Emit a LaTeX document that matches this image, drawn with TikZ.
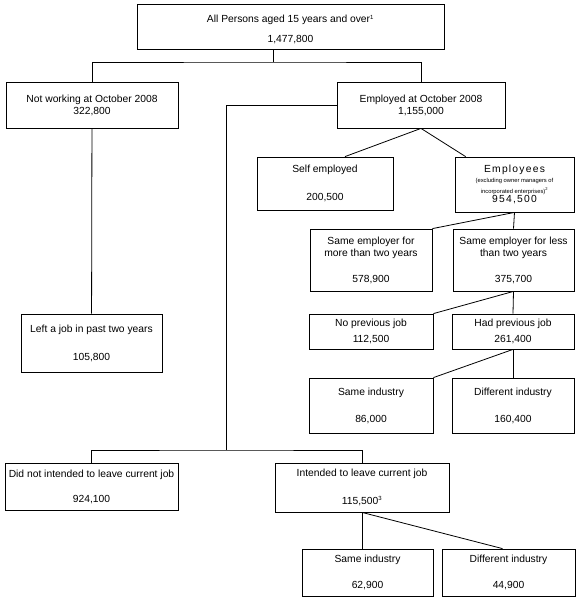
\documentclass[tikz,border=0pt]{standalone}
\usepackage{fontspec}
\setmainfont{Liberation Sans}
\usetikzlibrary{positioning}
\tikzset{
  boite/.style={
    rectangle,
    draw=black,line width=0.8pt,
    inner sep=0pt,
    align=center,
    font=\fontsize{10.3}{12}\selectfont},
  line/.style = {draw,line width=0.8pt},
}
\newcommand{\petit}{\fontsize{5.8}{8.5}\selectfont}
\newcommand{\normale}{\fontsize{10.3}{12}\selectfont}
\newcommand{\espace}[1]{{\addfontfeatures{LetterSpace=12}#1}}

\begin{document}
\begin{tikzpicture}[x=1pt,y=-1pt]
  \useasboundingbox (0,0) rectangle (582,603);
  \node[boite,minimum width=307,minimum height=45](all_persons) at (290.5,26.5)
    {\rule{0pt}{14pt}All Persons aged 15 years and over\textsuperscript{\fontsize{6}{6}\selectfont 1}\\[8pt]1,477,800};
  \node[boite,minimum width=172,minimum height=46](not_working) at (92,105)
    {Not working at October 2008\\[0pt]322,800};
  \node[boite,minimum width=168,minimum height=46](employed) at (421,105)
    {Employed at October 2008\\[0pt]1,155,000};
  \node[boite,minimum width=141,minimum height=58](left_job) at (91.5,343)
    {Left a job in past two years\\[16pt]105,800};
  \node[boite,minimum width=136,minimum height=53](self_employed) at (325,183.5)
    {Self employed\\[16pt]200,500};
  \node[boite,minimum width=119,minimum height=55](employees) at (514.5,184.5)
    {\espace{Employees}\\[-2pt]\petit (excluding owner managers of\\[-1.5pt]\petit incorporated enterprises)\textsuperscript{2}\\[-3pt]\normale\espace{954,500}};
  \node[boite,minimum width=122,minimum height=62](more_two) at (371,260)
    {Same employer for\\more than two years\\[14pt]578,900};
  \node[boite,minimum width=121,minimum height=62](less_two) at (513.5,260)
    {Same employer for less\\than two years\\[14pt]375,700};
  \node[boite,minimum width=124,minimum height=35](no_prev) at (371,331.5)
    {No previous job\\[4pt]112,500};
  \node[boite,minimum width=122,minimum height=35](had_prev) at (513,331.5)
    {Had previous job\\[4pt]261,400};
  \node[boite,minimum width=124,minimum height=55](same_ind) at (371,405.5)
    {Same industry\\[15pt]86,000};
  \node[boite,minimum width=122,minimum height=55](diff_ind) at (513,405.5)
    {Different industry\\[15pt]160,400};
  \node[boite,minimum width=173,minimum height=47](not_intend) at (91.5,486.5)
    {Did not intended to leave current job\\[13pt]924,100};
  \node[boite,minimum width=174,minimum height=49](intend) at (362,487.5)
    {Intended to leave current job\\[16pt]115,500\textsuperscript{\fontsize{6}{6}\selectfont 3}};
  \node[boite,minimum width=131,minimum height=47](same_ind2) at (367.5,572.5)
    {Same industry\\[14pt]62,900};
  \node[boite,minimum width=133,minimum height=47](diff_ind2) at (508.5,572.5)
    {Different industry\\[14pt]44,900};
  % forks
  \coordinate (fork_top) at (273,62);
  \coordinate (fork_low) at (226,450);
  \draw[line] (all_persons.south -| fork_top) -- (fork_top);
  \draw[line] (not_working.north) |- (fork_top) -| (employed.north);
  \draw[line] (employed.west) -| (fork_low);
  \draw[line] (not_intend.north) |- (fork_low) -| (intend.north);
  \draw[line] (not_working) edge (left_job);
  \draw[line] (employed.south) edge ([xshift=20pt]self_employed.north);
  \draw[line] (employed.south) edge ([xshift=11pt]employees.north west);
  \draw[line] (employees.south) edge (more_two.north east);
  \draw[line] (employees.south) edge (less_two.north);
  \draw[line] (less_two.south) edge (no_prev.north east);
  \draw[line] (less_two.south) edge (had_prev.north);
  \draw[line] (had_prev.south) edge (same_ind.north east);
  \draw[line] (had_prev.south) edge (diff_ind.north);
  \draw[line] (intend.south) edge (intend.south |- same_ind2.north);
  \draw[line] (intend.south) edge ([xshift=-6pt]diff_ind2.north);
\end{tikzpicture}
\end{document}
